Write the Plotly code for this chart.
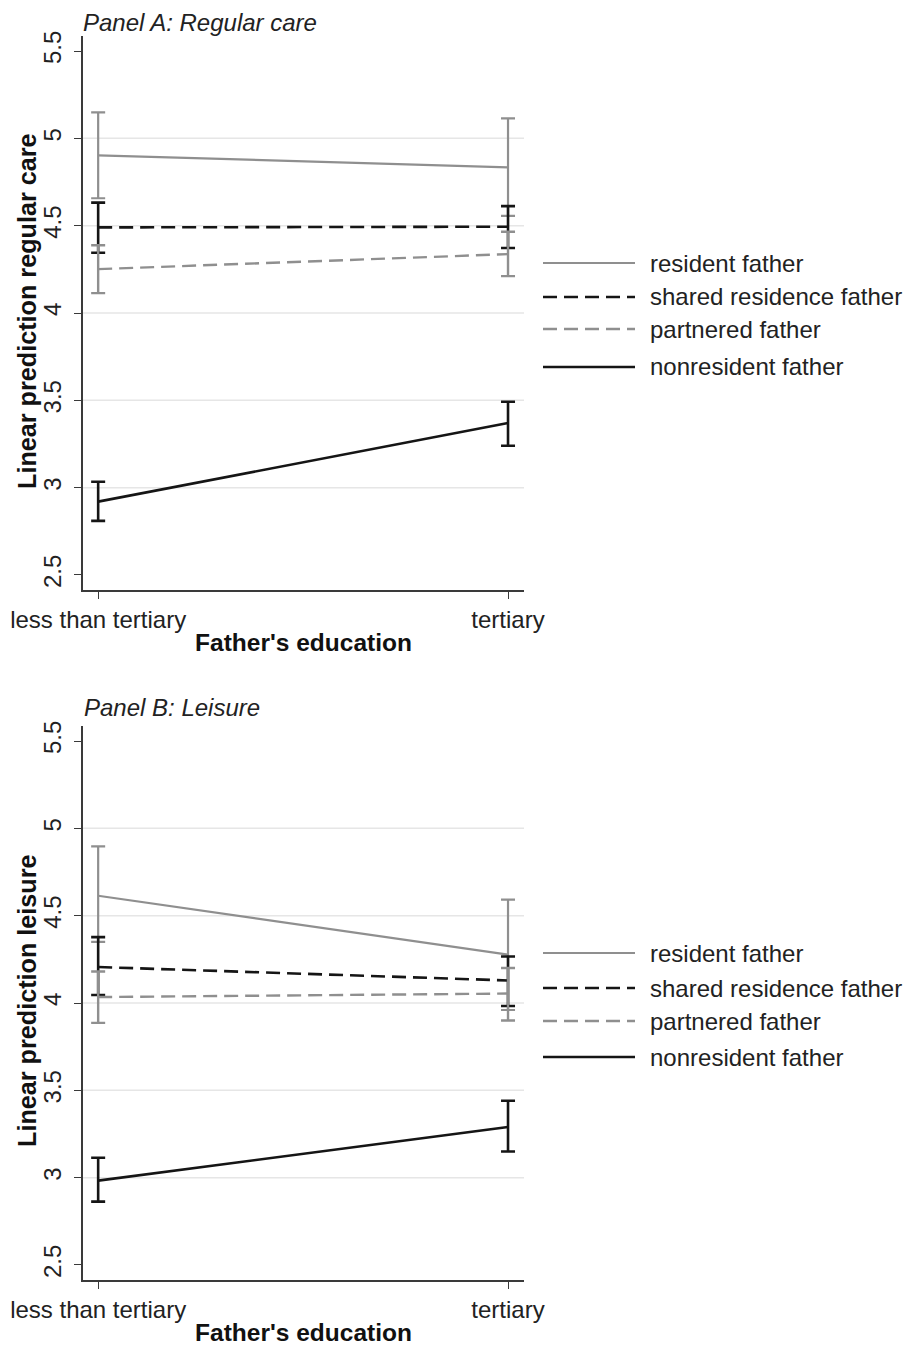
import plotly.graph_objects as go

categories = ["less than tertiary", "tertiary"]
series_names = ["resident father", "shared residence father", "partnered father", "nonresident father"]

# Panel A: Regular care
a_resident = [4.903, 4.834]
a_resident_lo = [4.657, 4.556]
a_resident_hi = [5.149, 5.114]
a_shared = [4.490, 4.494]
a_shared_lo = [4.345, 4.372]
a_shared_hi = [4.632, 4.612]
a_partnered = [4.251, 4.337]
a_partnered_lo = [4.114, 4.211]
a_partnered_hi = [4.388, 4.465]
a_nonres = [2.920, 3.370]
a_nonres_lo = [2.810, 3.240]
a_nonres_hi = [3.034, 3.492]

# Panel B: Leisure
b_resident = [4.614, 4.277]
b_resident_lo = [4.350, 3.960]
b_resident_hi = [4.897, 4.592]
b_shared = [4.206, 4.129]
b_shared_lo = [4.046, 3.983]
b_shared_hi = [4.377, 4.266]
b_partnered = [4.034, 4.054]
b_partnered_lo = [3.886, 3.900]
b_partnered_hi = [4.180, 4.200]
b_nonres = [2.983, 3.290]
b_nonres_lo = [2.863, 3.150]
b_nonres_hi = [3.114, 3.440]

y_ticks = [2.5, 3, 3.5, 4, 4.5, 5, 5.5]
grid_vals = [3, 3.5, 4, 4.5, 5]

GRAY = "#8f8f8f"
BLACK = "#151515"
styles = [
    dict(color=GRAY, width=2.2, dash="solid"),
    dict(color=BLACK, width=2.6, dash="14px,7px"),
    dict(color=GRAY, width=2.4, dash="14px,7px"),
    dict(color=BLACK, width=2.6, dash="solid"),
]

FONT = "Liberation Sans, Arial, sans-serif"
OFF = 8  # default page margin of the browser
W, H = 911 - OFF, 1347 - OFF
L = 83 - OFF
T = 36 - OFF
R = W - (524 - OFF)
B = H - (1280 - OFF)
PH = H - T - B
PW = W - L - R


def py2paper(py):
    return (H - B - (py - OFF)) / PH


def px2paper(px):
    return (px - OFF - L) / PW


fig = go.Figure()

panels = [
    ("x", "y", [(a_resident, a_resident_lo, a_resident_hi), (a_shared, a_shared_lo, a_shared_hi),
                (a_partnered, a_partnered_lo, a_partnered_hi), (a_nonres, a_nonres_lo, a_nonres_hi)]),
    ("x2", "y2", [(b_resident, b_resident_lo, b_resident_hi), (b_shared, b_shared_lo, b_shared_hi),
                  (b_partnered, b_partnered_lo, b_partnered_hi), (b_nonres, b_nonres_lo, b_nonres_hi)]),
]

for xa, ya, data in panels:
    for name, st, (vals, lo, hi) in zip(series_names, styles, data):
        fig.add_trace(go.Scatter(
            x=categories, y=vals, mode="lines", name=name, showlegend=False,
            xaxis=xa, yaxis=ya,
            line=dict(color=st["color"], width=st["width"], dash=st["dash"]),
            error_y=dict(type="data", symmetric=False,
                         array=[h - v for h, v in zip(hi, vals)],
                         arrayminus=[v - l for v, l in zip(vals, lo)],
                         color=st["color"], thickness=st["width"], width=7),
        ))

dom_a = [py2paper(590), 1.0]
dom_b = [0.0, py2paper(726)]

TICKSZ = 24
TITLESZ = 24.5

axis_common_x = dict(type="category", range=[-0.037, 1.039], showgrid=False, zeroline=False,
                     showline=True, linecolor="#3a3a3a", linewidth=1.6, ticks="outside",
                     ticklen=7, tickcolor="#3a3a3a", tickwidth=1.4,
                     tickfont=dict(family=FONT, size=TICKSZ, color="#222"),
                     title=dict(text="<b>Father's education</b>", font=dict(family=FONT, size=TITLESZ, color="#111"),
                                standoff=2))
axis_common_y = dict(range=[2.414, 5.586], tickvals=y_ticks, ticktext=[str(v) for v in y_ticks],
                     showgrid=False, zeroline=False, showline=True, linecolor="#3a3a3a", linewidth=1.6,
                     ticks="outside", ticklen=7, tickcolor="#3a3a3a", tickwidth=1.4, tickangle=-90,
                     ticklabelstandoff=4,
                     tickfont=dict(family=FONT, size=TICKSZ, color="#222"))

fig.update_layout(
    xaxis=dict(**axis_common_x, domain=[0, 1], anchor="y"),
    yaxis=dict(**axis_common_y, domain=dom_a, anchor="x"),
    xaxis2=dict(**axis_common_x, domain=[0, 1], anchor="y2"),
    yaxis2=dict(**axis_common_y, domain=dom_b, anchor="x2"),
)

shapes = []
for ya in ["y", "y2"]:
    for g in grid_vals:
        shapes.append(dict(type="line", xref="x domain" if ya == "y" else "x2 domain", yref=ya,
                           x0=0, x1=1, y0=g, y1=g, line=dict(color="#e6e6e6", width=1.5), layer="below"))

annotations = []
legend_rows = {"A": [263, 297, 329, 367], "B": [953, 988, 1021, 1057]}
for key, rows in legend_rows.items():
    for name, st, ry in zip(series_names, styles, rows):
        shapes.append(dict(type="line", xref="paper", yref="paper",
                           x0=px2paper(543), x1=px2paper(635), y0=py2paper(ry), y1=py2paper(ry),
                           line=dict(color=st["color"], width=st["width"], dash=st["dash"])))
        annotations.append(dict(text=name, xref="paper", yref="paper", x=px2paper(648), y=py2paper(ry),
                                xanchor="left", yanchor="middle", showarrow=False,
                                font=dict(family=FONT, size=TICKSZ, color="#222")))

# y-axis titles
for text, cy in [("<b>Linear prediction regular care</b>", 311), ("<b>Linear prediction leisure</b>", 1001)]:
    annotations.append(dict(text=text, xref="paper", yref="paper", x=px2paper(27), y=py2paper(cy),
                            xanchor="center", yanchor="middle", textangle=-90, showarrow=False,
                            font=dict(family=FONT, size=25.2, color="#111")))

annotations.append(dict(text="<i>Panel A: Regular care</i>", xref="paper", yref="paper",
                        x=px2paper(82), y=py2paper(8), xanchor="left", yanchor="top", showarrow=False,
                        borderpad=0, font=dict(family=FONT, size=TICKSZ, color="#222")))
annotations.append(dict(text="<i>Panel B: Leisure</i>", xref="paper", yref="paper",
                        x=px2paper(82), y=py2paper(708), xanchor="left", yanchor="middle", showarrow=False,
                        font=dict(family=FONT, size=TICKSZ, color="#222")))

fig.update_layout(
    width=W, height=H, margin=dict(l=L, r=R, t=T, b=B, autoexpand=False),
    paper_bgcolor="white", plot_bgcolor="white", showlegend=False,
    shapes=shapes, annotations=annotations,
)

fig.write_html("out.html")
